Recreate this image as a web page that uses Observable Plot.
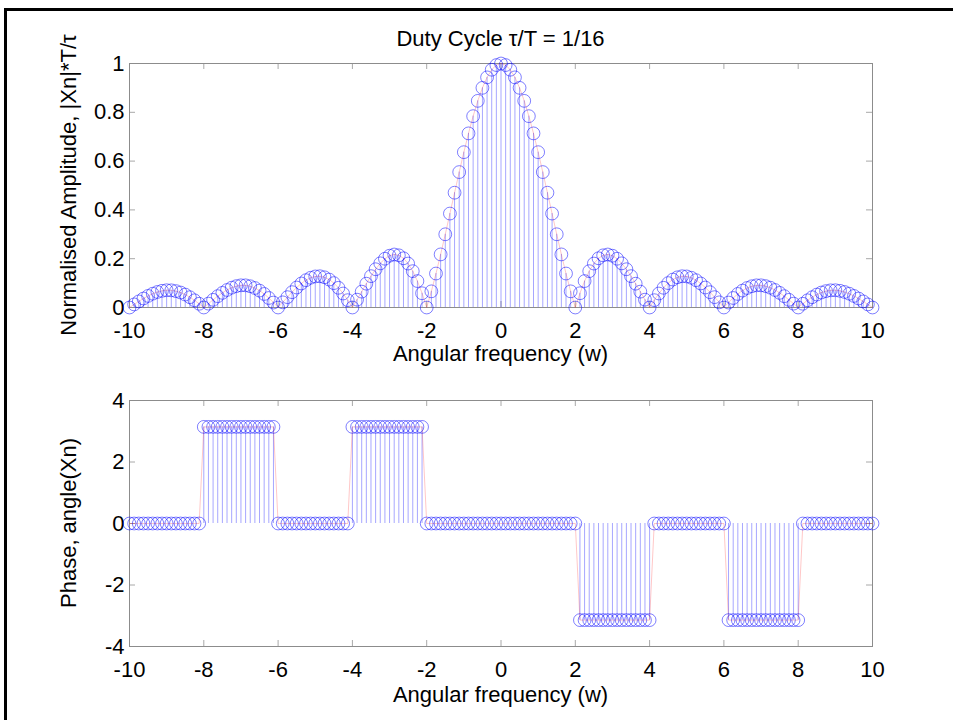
<!DOCTYPE html>
<html>
<head>
<meta charset="utf-8">
<script src="https://cdn.jsdelivr.net/npm/d3@7"></script>
<script src="https://cdn.jsdelivr.net/npm/@observablehq/plot@0.6"></script>
<style>
  html, body { margin: 0; padding: 0; background: white; }
  #wrap { position: relative; width: 953px; height: 720px; overflow: hidden; background: white; }
  .frame-border { position: absolute; left: 4px; top: 8px; width: 960px; height: 720px;
    border-top: 3px solid black; border-left: 3px solid black; box-sizing: border-box; }
  #overlay { position: absolute; left: 0; top: 0; pointer-events: none; }
  #overlay text { font-family: 'Liberation Sans', Arial, Helvetica, sans-serif; font-size: 22px; fill: black; }
</style>
</head>
<body>
<div id="wrap">
  <div class="frame-border"></div>
</div>
<script>
// ---- data ----
const freq = [
  -10,-9.875,-9.75,-9.625,-9.5,-9.375,-9.25,-9.125,
  -9,-8.875,-8.75,-8.625,-8.5,-8.375,-8.25,-8.125,
  -8,-7.875,-7.75,-7.625,-7.5,-7.375,-7.25,-7.125,
  -7,-6.875,-6.75,-6.625,-6.5,-6.375,-6.25,-6.125,
  -6,-5.875,-5.75,-5.625,-5.5,-5.375,-5.25,-5.125,
  -5,-4.875,-4.75,-4.625,-4.5,-4.375,-4.25,-4.125,
  -4,-3.875,-3.75,-3.625,-3.5,-3.375,-3.25,-3.125,
  -3,-2.875,-2.75,-2.625,-2.5,-2.375,-2.25,-2.125,
  -2,-1.875,-1.75,-1.625,-1.5,-1.375,-1.25,-1.125,
  -1,-0.875,-0.75,-0.625,-0.5,-0.375,-0.25,-0.125,
  0,0.125,0.25,0.375,0.5,0.625,0.75,0.875,
  1,1.125,1.25,1.375,1.5,1.625,1.75,1.875,
  2,2.125,2.25,2.375,2.5,2.625,2.75,2.875,
  3,3.125,3.25,3.375,3.5,3.625,3.75,3.875,
  4,4.125,4.25,4.375,4.5,4.625,4.75,4.875,
  5,5.125,5.25,5.375,5.5,5.625,5.75,5.875,
  6,6.125,6.25,6.375,6.5,6.625,6.75,6.875,
  7,7.125,7.25,7.375,7.5,7.625,7.75,7.875,
  8,8.125,8.25,8.375,8.5,8.625,8.75,8.875,
  9,9.125,9.25,9.375,9.5,9.625,9.75,9.875,
  10
];
const amplitude = [
  0,0.0126,0.0250,0.0368,0.0474,0.0565,0.0636,0.0684,
  0.0707,0.0704,0.0672,0.0614,0.0530,0.0422,0.0295,0.0153,
  0,0.0158,0.0314,0.0464,0.0600,0.0718,0.0811,0.0876,
  0.0909,0.0908,0.0871,0.0799,0.0693,0.0555,0.0390,0.0203,
  0,0.0211,0.0424,0.0629,0.0819,0.0985,0.1120,0.1218,
  0.1273,0.1281,0.1238,0.1145,0.1000,0.0808,0.0573,0.0301,
  0,0.0321,0.0650,0.0976,0.1286,0.1568,0.1810,0.1998,
  0.2122,0.2172,0.2139,0.2017,0.1801,0.1489,0.1083,0.0584,
  0,0.0662,0.1392,0.2176,0.3001,0.3850,0.4705,0.5550,
  0.6366,0.7136,0.7842,0.8469,0.9003,0.9432,0.9745,0.9936,
  1,0.9936,0.9745,0.9432,0.9003,0.8469,0.7842,0.7136,
  0.6366,0.5550,0.4705,0.3850,0.3001,0.2176,0.1392,0.0662,
  0,0.0584,0.1083,0.1489,0.1801,0.2017,0.2139,0.2172,
  0.2122,0.1998,0.1810,0.1568,0.1286,0.0976,0.0650,0.0321,
  0,0.0301,0.0573,0.0808,0.1000,0.1145,0.1238,0.1281,
  0.1273,0.1218,0.1120,0.0985,0.0819,0.0629,0.0424,0.0211,
  0,0.0203,0.0390,0.0555,0.0693,0.0799,0.0871,0.0908,
  0.0909,0.0876,0.0811,0.0718,0.0600,0.0464,0.0314,0.0158,
  0,0.0153,0.0295,0.0422,0.0530,0.0614,0.0672,0.0704,
  0.0707,0.0684,0.0636,0.0565,0.0474,0.0368,0.0250,0.0126,
  0
];
const phase = [
  0,0,0,0,0,0,0,0,
  0,0,0,0,0,0,0,0,
  3.1416,3.1416,3.1416,3.1416,3.1416,3.1416,3.1416,3.1416,
  3.1416,3.1416,3.1416,3.1416,3.1416,3.1416,3.1416,3.1416,
  0,0,0,0,0,0,0,0,
  0,0,0,0,0,0,0,0,
  3.1416,3.1416,3.1416,3.1416,3.1416,3.1416,3.1416,3.1416,
  3.1416,3.1416,3.1416,3.1416,3.1416,3.1416,3.1416,3.1416,
  0,0,0,0,0,0,0,0,
  0,0,0,0,0,0,0,0,
  0,0,0,0,0,0,0,0,
  0,0,0,0,0,0,0,0,
  0,-3.1416,-3.1416,-3.1416,-3.1416,-3.1416,-3.1416,-3.1416,
  -3.1416,-3.1416,-3.1416,-3.1416,-3.1416,-3.1416,-3.1416,-3.1416,
  -3.1416,0,0,0,0,0,0,0,
  0,0,0,0,0,0,0,0,
  0,-3.1416,-3.1416,-3.1416,-3.1416,-3.1416,-3.1416,-3.1416,
  -3.1416,-3.1416,-3.1416,-3.1416,-3.1416,-3.1416,-3.1416,-3.1416,
  -3.1416,0,0,0,0,0,0,0,
  0,0,0,0,0,0,0,0,
  0
];
const xTicks = [-10,-8,-6,-4,-2,0,2,4,6,8,10];
const ampTicks = [0,0.2,0.4,0.6,0.8,1];
const phaseTicks = [-4,-2,0,2,4];
const titleText = "Duty Cycle \u03C4/T = 1/16";
const xLabel = "Angular frequency (w)";
const ampLabel = "Normalised Amplitude, |Xn|*T/\u03C4";
const phaseLabel = "Phase, angle(Xn)";

// ---- build ----
const data = freq.map((w, i) => ({w, a: amplitude[i], p: phase[i]}));
const font = "'Liberation Sans', Arial, Helvetica, sans-serif";
const W = 953, ML = 129, MR = 81;
const innerW = W - ML - MR;
const axisGray = "#8c8c8c", tickGray = "#a8a8a8";
const stemColor = "#0000ff", lineColor = "#ff0000";

function panel({height, mt, mb, yDomain, yTicks, key}) {
  const innerH = height - mt - mb;
  return Plot.plot({
    width: W, height,
    marginLeft: ML, marginRight: MR, marginTop: mt, marginBottom: mb,
    style: {fontFamily: font, fontSize: "22px", background: "transparent", overflow: "visible", color: "black"},
    x: {domain: [-10, 10]},
    y: {domain: yDomain},
    marks: [
      Plot.tickX(xTicks, {x: d => d, insetBottom: innerH - 6, stroke: tickGray}),
      Plot.tickX(xTicks, {x: d => d, insetTop: innerH - 6, stroke: tickGray}),
      Plot.tickY(yTicks, {y: d => d, insetRight: innerW - 6, stroke: tickGray}),
      Plot.tickY(yTicks, {y: d => d, insetLeft: innerW - 6, stroke: tickGray}),
      Plot.frame({stroke: axisGray}),
      Plot.axisX({ticks: xTicks, tickSize: 0, tickPadding: 15, label: null, tickFormat: d => String(d), fill: "black"}),
      Plot.axisY({ticks: yTicks, tickSize: 0, tickPadding: 5, label: null, tickFormat: d => String(d), fill: "black"}),
      Plot.ruleX(data, {x: "w", y1: 0, y2: key, stroke: stemColor, strokeOpacity: 0.35, strokeWidth: 1}),
      Plot.line(data, {x: "w", y: key, stroke: lineColor, strokeOpacity: 0.22, strokeWidth: 1}),
      Plot.dot(data, {x: "w", y: key, r: 6.4, stroke: stemColor, strokeOpacity: 0.5, strokeWidth: 1, fill: "none"})
    ]
  });
}

const wrapEl = document.getElementById("wrap");
const topPanel = panel({height: 380, mt: 63, mb: 73, yDomain: [0, 1], yTicks: ampTicks, key: "a"});
topPanel.style.position = "absolute"; topPanel.style.left = "0px"; topPanel.style.top = "0px";
wrapEl.appendChild(topPanel);
const botPanel = panel({height: 340, mt: 20, mb: 74, yDomain: [-4, 4], yTicks: phaseTicks, key: "p"});
botPanel.style.position = "absolute"; botPanel.style.left = "0px"; botPanel.style.top = "380px";
wrapEl.appendChild(botPanel);

// text overlay (title and axis labels)
const ns = "http://www.w3.org/2000/svg";
const ov = document.createElementNS(ns, "svg");
ov.setAttribute("id", "overlay");
ov.setAttribute("width", W); ov.setAttribute("height", 720);
function addText(str, x, y, rotate) {
  const t = document.createElementNS(ns, "text");
  t.setAttribute("text-anchor", "middle");
  if (rotate) t.setAttribute("transform", `translate(${x},${y}) rotate(-90)`);
  else { t.setAttribute("x", x); t.setAttribute("y", y); }
  t.textContent = str;
  ov.appendChild(t);
}
const cx = ML + innerW / 2;
addText(titleText, cx, 46);
addText(xLabel, cx, 361);
addText(xLabel, cx, 702);
addText(ampLabel, 76, 185, true);
addText(phaseLabel, 76, 523, true);
wrapEl.appendChild(ov);
</script>
</body>
</html>
